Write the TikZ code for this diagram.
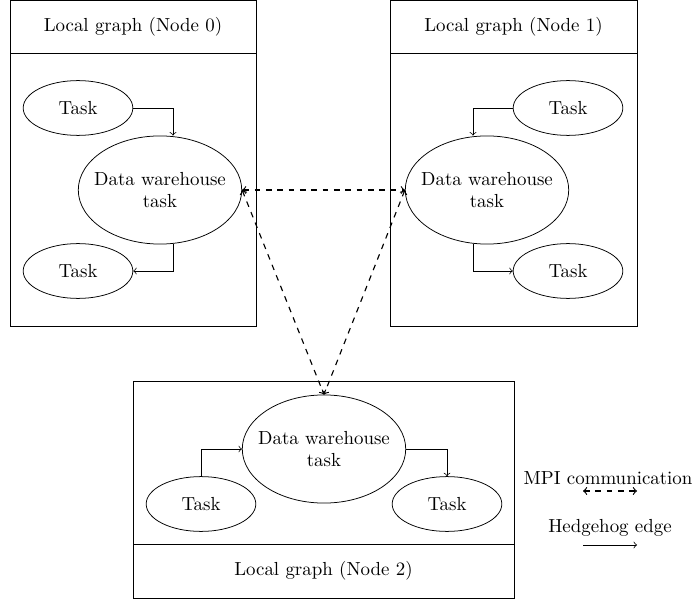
\documentclass[tikz,border=0pt]{standalone}
\usetikzlibrary{calc,shapes.geometric}
\begin{document}
\begin{tikzpicture}[x=0.529pt,y=-0.529pt,
  box/.style={draw,rectangle,inner sep=0pt},
  task/.style={draw,ellipse,inner sep=0pt,minimum width=58pt,minimum height=29pt},
  dwtask/.style={draw,ellipse,inner xsep=-4.26pt,inner ysep=10.7pt,align=center},
  hedge/.style={->},
  mpi/.style={<->,dashed,semithick}]
\useasboundingbox (0,0) rectangle (697,602);
% Node 0
\node[box,minimum width=130.1pt,minimum height=28pt] (h0) at (133,26.5) {Local graph (Node 0)};
\node[box,minimum width=130.1pt,minimum height=144.4pt] (b0) at (133,189.5) {};
\node[task] (t0a) at (78,108) {Task};
\node[dwtask] (dw0) at (160,190) {Data warehouse\\task};
\node[task] (t0b) at (78,271) {Task};
% Node 1
\node[box,minimum width=130.7pt,minimum height=28pt] (h1) at (513.5,26.5) {Local graph (Node 1)};
\node[box,minimum width=130.7pt,minimum height=144.4pt] (b1) at (513.5,189.5) {};
\node[task] (t1a) at (568,108) {Task};
\node[dwtask] (dw1) at (487,190) {Data warehouse\\task};
\node[task] (t1b) at (568,271) {Task};
% Node 2
\node[box,minimum width=201.5pt,minimum height=86.2pt] (b2) at (323.5,462.5) {};
\node[box,minimum width=201.5pt,minimum height=28.6pt] (f2) at (323.5,571) {Local graph (Node 2)};
\node[dwtask] (dw2) at (324,449) {Data warehouse\\task};
\node[task] (t2a) at (201,504) {Task};
\node[task] (t2b) at (447,504) {Task};
% Hedgehog edges
\draw[hedge] (t0a.east) -| ($(dw0.north)+(13,0)$);
\draw[hedge] ($(dw0.south)+(13,0)$) |- (t0b.east);
\draw[hedge] (t1a.west) -| ($(dw1.north)+(-14,0)$);
\draw[hedge] ($(dw1.south)+(-14,0)$) |- (t1b.west);
\draw[hedge] (t2a.north) |- (dw2.west);
\draw[hedge] (dw2.east) -| (t2b.north);
% MPI communication
\draw[mpi] (dw0.east) -- (dw1.west);
\draw[mpi] (dw0.east) -- (dw2.north);
\draw[mpi] (dw1.west) -- (dw2.north);
% Legend
\node (lmpi) at (608,478) {MPI communication};
\coordinate (m1) at (583,491);
\coordinate (m2) at (637,491);
\draw[mpi] (m1) -- (m2);
\node (lhh) at (610,528) {Hedgehog edge};
\coordinate (e1) at (583,545);
\coordinate (e2) at (637,545);
\draw[hedge] (e1) -- (e2);
\end{tikzpicture}
\end{document}
